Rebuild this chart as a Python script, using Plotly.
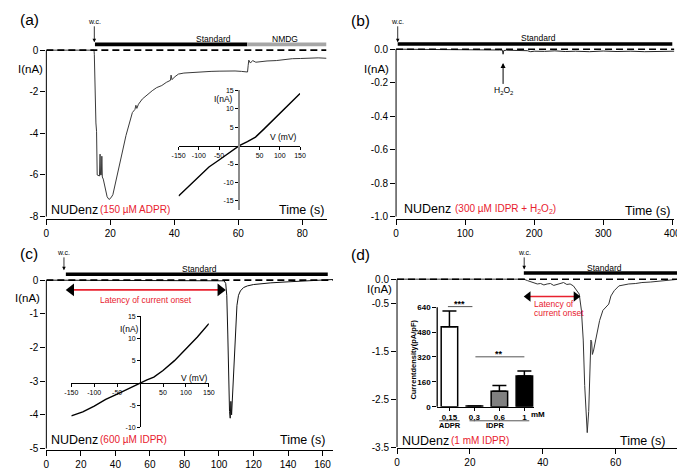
import plotly.graph_objects as go

W, H = 685, 469
FONT = "Liberation Sans, Arial, sans-serif"
RED = "#e8212e"
TRACE = "#333333"

# ---------------- data ----------------
# (a) 150 uM ADPR
a_time = [0, 14.9, 15.0, 15.1, 15.3, 15.5, 15.7, 15.9, 16.6, 16.8, 16.95, 17.2, 17.35, 17.5, 17.8, 18.4,
          19.0, 19.6, 20.2, 20.8, 21.8, 22.9, 23.9, 24.9, 25.9, 26.9, 27.7, 28.0, 28.3, 28.8, 30.0, 31.5,
          33.1, 34.5, 36.1, 37.5, 38.8, 39.0, 39.3, 40.0, 41.3, 43.0, 45.3, 48.0, 51.5, 54.0, 56.6, 59.0,
          61.0, 62.9, 63.1, 63.3, 63.8, 64.5, 65.5, 66.8, 69.0, 71.9, 74.0, 76.9, 79.5, 82.1, 85.0, 87.6]
a_curr = [0, 0, -0.2, -1.4, -1.6, -3.5, -3.9, -6.0, -6.05, -5.0, -6.0, -6.0, -5.1, -6.1, -6.2, -6.7,
          -7.05, -7.18, -7.1, -6.95, -6.3, -5.55, -4.8, -4.1, -3.5, -3.0, -2.85, -2.65, -2.8, -2.6, -2.35, -2.15,
          -1.95, -1.8, -1.7, -1.55, -1.45, -1.2, -1.42, -1.3, -1.15, -1.1, -1.07, -1.05, -1.02, -1.01, -0.99, -1.0,
          -1.02, -1.05, -0.75, -0.48, -0.62, -0.5, -0.58, -0.55, -0.52, -0.5, -0.45, -0.41, -0.4, -0.38, -0.37, -0.39]
a_wc = 15.0
a_standard = [15.2, 62.8]
a_nmdg = [62.8, 87.6]
a_xticks = [0, 20, 40, 60, 80]
a_yticks = [0, -2, -4, -6, -8]
a_iv_v = [-150, -125, -100, -75, -50, -25, 0, 20, 40, 60, 80, 100, 125, 150]
a_iv_i = [-13.7, -11.0, -8.3, -5.8, -3.9, -1.9, 0, 1.1, 2.3, 4.4, 6.6, 8.8, 11.5, 14.1]
iv_a_vticks = [-150, -100, -50, 50, 100, 150]
iv_a_iticks = [15, 10, 5, -5, -10, -15]

# (b) 300 uM IDPR + H2O2
b_time = [0, 2, 10, 30, 60, 90, 120, 150, 154, 155, 156, 160, 175, 190, 195, 200, 215, 230,
          245, 260, 280, 300, 320, 340, 360, 380, 400, 403]
b_curr = [0, 0, -0.002, 0.0, -0.003, -0.002, -0.004, -0.005, -0.006, -0.03, -0.008, -0.006, -0.007,
          -0.009, -0.015, -0.012, -0.013, -0.01, -0.014, -0.012, -0.015, -0.011, -0.014, -0.012, -0.015,
          -0.012, -0.013, -0.012]
b_wc = 2.4
b_standard = [2.4, 400]
b_h2o2 = 155
b_xticks = [0, 100, 200, 300, 400]
b_yticks = [0.0, -0.2, -0.4, -0.6, -0.8, -1.0]

# (c) 600 uM IDPR
c_time = [0, 100, 103.0, 103.9, 104.5, 105.1, 105.6, 106.1, 106.5, 106.9, 107.3, 107.8, 108.4, 108.9,
          109.6, 110.4, 111.3, 112.4, 114.2, 116.5, 120, 125, 130, 140, 150, 158, 163, 166]
c_curr = [0, 0, -0.02, -0.1, -0.45, -1.6, -3.0, -3.9, -4.1, -3.6, -4.0, -3.5, -2.9, -2.3,
          -1.5, -0.75, -0.45, -0.32, -0.22, -0.17, -0.13, -0.1, -0.08, -0.05, -0.03, -0.01, 0.01, 0.02]
c_wc = 10.2
c_standard = [11.3, 163]
c_latency = [11.3, 103.9]
c_xticks = [0, 20, 40, 60, 80, 100, 120, 140, 160]
c_yticks = [0, -1, -2, -3, -4, -5]
c_iv_v = [-150, -125, -100, -75, -50, -25, 0, 15, 30, 50, 75, 100, 125, 150]
c_iv_i = [-7.4, -6.5, -5.2, -3.7, -2.5, -1.2, 0, 0.7, 1.3, 2.8, 5.0, 7.6, 10.3, 13.3]
iv_c_vticks = [-150, -100, -50, 50, 100, 150]
iv_c_iticks = [15, 10, 5, -5, -10]

# (d) 1 mM IDPR
d_time = [0, 34.8, 35.8, 36.7, 37.6, 38.5, 39.4, 40.3, 41.2, 42.1, 43.0, 43.9, 44.8, 45.7, 46.6, 47.5,
          48.4, 49.3, 50.0, 50.6, 51.1, 51.5, 52.0, 52.2, 52.6, 53.0, 53.2, 53.4, 53.6, 53.9, 54.7, 55.6,
          56.5, 57.3, 58.1, 58.7, 59.6, 60.9, 62.0, 63.6, 65.5, 67.2, 69.5, 71.7, 74.0, 76.2, 78.8]
d_curr = [0, 0, -0.03, -0.05, -0.08, -0.1, -0.09, -0.12, -0.1, -0.09, -0.13, -0.11, -0.08, -0.07, -0.11, -0.1,
          -0.14, -0.24, -0.31, -0.65, -1.27, -2.22, -2.9, -3.2, -2.76, -1.95, -1.27, -1.3, -1.57, -1.5, -1.2, -0.86,
          -0.65, -0.59, -0.52, -0.35, -0.24, -0.14, -0.12, -0.1, -0.09, -0.07, -0.06, -0.04, -0.03, -0.01, 0.01]
d_wc = 34.9
d_standard = [34.8, 77]
d_latency = [34.8, 50.3]
d_xticks = [0, 20, 40, 60]
d_yticks = [0.0, -0.5, -1.5, -2.5, -3.5]

# (d) inset bar chart
bar_labels = ["0,15", "0,3", "0,6", "1"]
bar_values = [515, 4, 100, 197]
bar_errors = [100, 0, 36, 33]
bar_colors = ["white", "white", "#808080", "black"]
bar_yticks = [0, 160, 320, 480, 640]

# ---------------- helpers ----------------
def fx(px):
    return px / W


def fy(py):
    return 1 - py / H


def xdom(px0, sx, xr):
    return [fx(px0 + xr[0] * sx), fx(px0 + xr[1] * sx)]


def ydom(py0, sy, yr):
    return [fy(py0 - yr[0] * sy), fy(py0 - yr[1] * sy)]


def lab(v, fmt="{:g}"):
    return fmt.format(v)


AX = dict(showgrid=False, zeroline=False, ticks="outside", tickcolor="black", tickwidth=1,
          linecolor="black", linewidth=1)

fig = go.Figure()
layout = {}
shapes = []
ann = []

# main panels: suffix, px0, sx, xrange, py0, sy, yrange, x-axis line py, xticks, yticks, yfmt
MAIN = [
    ("", 32, 3.265, [0, 87.6], 39, 21.25, [-8, 0.45], 212, a_xticks, a_yticks, "{:g}"),
    ("2", 389, 0.705, [0, 403], 38, 171, [-1.0, 0.06], 211, b_xticks, b_yticks, "{:.1f}"),
    ("3", 32, 1.7625, [0, 166], 274, 34.4, [-5, 0.3], 448, c_xticks, c_yticks, "{:g}"),
    ("4", 390, 3.72, [0, 79], 273, 49, [-3.5, 0.2], 446, d_xticks, d_yticks, "{:.1f}"),
]
SCALE = {}
for sfx, px0, sx, xr, py0, sy, yr, xline, xt, yt, yfmt in MAIN:
    SCALE[sfx] = (sx, sy)
    layout["xaxis" + sfx] = dict(AX, domain=xdom(px0, sx, xr), range=xr, anchor="free",
                                 position=fy(xline), showline=True, tickvals=xt,
                                 ticktext=[lab(v) for v in xt], ticklen=5,
                                 tickfont=dict(size=10, family=FONT, color="black"))
    layout["yaxis" + sfx] = dict(AX, domain=ydom(py0, sy, yr), range=yr, anchor="x" + sfx,
                                 showline=False, tickvals=yt, ticktext=[lab(v, yfmt) for v in yt],
                                 ticklen=5, tickfont=dict(size=10, family=FONT, color="black"))
    span = yr[1] - yr[0]
    shapes.append(dict(type="line", xref=f"x{sfx} domain", yref=f"y{sfx} domain", x0=0, x1=0,
                       y0=(min(yt) - yr[0]) / span, y1=(0 - yr[0]) / span,
                       line=dict(color="black", width=1)))

# ---- traces of main panels ----
def trace(sfx, x, y, color=TRACE, width=1):
    fig.add_trace(go.Scatter(x=x, y=y, mode="lines", line=dict(color=color, width=width),
                             xaxis="x" + sfx, yaxis="y" + sfx, hoverinfo="skip"))


def zero_line(sfx, xr):
    fig.add_trace(go.Scatter(x=xr, y=[0, 0], mode="lines",
                             line=dict(color="black", width=1.6, dash="7px,4px"),
                             xaxis="x" + sfx, yaxis="y" + sfx, hoverinfo="skip"))


def bar(sfx, span, y, color="black"):
    shapes.append(dict(type="line", xref="x" + sfx, yref="y" + sfx, x0=span[0], x1=span[1],
                       y0=y, y1=y, line=dict(color=color, width=3.6)))


def wc(sfx, t, py_head, py_text):
    ann.append(dict(x=t, xref="x" + sfx, y=fy(py_head), yref="paper", text="w.c.", showarrow=True,
                    arrowhead=2, arrowsize=0.9, arrowwidth=0.8, arrowcolor="black", ax=0,
                    ay=py_text - py_head, font=dict(size=7, family=FONT, color="black")))


def latency(sfx, span, y, size):
    sx = SCALE[sfx][0]
    off = (size / 2) / sx
    xs = [span[0] + off, span[1] - off]
    fig.add_trace(go.Scatter(x=xs, y=[y, y], mode="lines", line=dict(color=RED, width=1.6),
                             xaxis="x" + sfx, yaxis="y" + sfx, hoverinfo="skip"))
    fig.add_trace(go.Scatter(x=xs, y=[y, y], mode="markers",
                             marker=dict(symbol=["triangle-left", "triangle-right"], size=size,
                                         color="black"),
                             xaxis="x" + sfx, yaxis="y" + sfx, hoverinfo="skip"))


trace("", a_time, a_curr, color="#3a3a3a")
zero_line("", [0, 87.6])
bar("", a_standard, 0.28)
bar("", a_nmdg, 0.28, color="#a6a6a6")
wc("", a_wc, 31, 10)

trace("2", b_time, b_curr, color="#222222")
zero_line("2", [0, 403])
bar("2", b_standard, 0.031)
wc("2", b_wc, 31, 10)

trace("3", c_time, c_curr, color="#111111")
zero_line("3", [0, 166])
bar("3", c_standard, 0.174)
wc("3", c_wc, 264, 246)
latency("3", c_latency, -0.29, 11)

trace("4", d_time, d_curr, color="#333333")
zero_line("4", [0, 79])
bar("4", d_standard, 0.13)
wc("4", d_wc, 263, 246)
latency("4", d_latency, -0.36, 9)

# ---- I-V insets ----
IV = [
    ("5", a_iv_v, a_iv_i, 229, 124 / 300, [-150, 150], 136.5, 3.767, [-17.5, 15],
     iv_a_vticks, iv_a_iticks, "#8c8c8c", 2.4),
    ("6", c_iv_v, c_iv_i, 127.7, 0.468, [-150, 150], 379, 4.55, [-10, 15],
     iv_c_vticks, iv_c_iticks, "black", 1),
]
for sfx, v, i, px0, sx, xr, py0, sy, yr, vt, it, ycol, yw in IV:
    layout["xaxis" + sfx] = dict(AX, domain=xdom(px0, sx, xr), range=xr, anchor="free",
                                 position=fy(py0), showline=True, tickvals=vt,
                                 ticktext=[lab(t) for t in vt], ticklen=3,
                                 tickfont=dict(size=7, family=FONT, color="black"))
    layout["yaxis" + sfx] = dict(AX, domain=ydom(py0, sy, yr), range=yr, anchor="free",
                                 position=fx(px0), showline=True, linecolor=ycol, linewidth=yw,
                                 tickvals=it, ticktext=[lab(t) for t in it], ticklen=3,
                                 tickfont=dict(size=7, family=FONT, color="black"))
    fig.add_trace(go.Scatter(x=v, y=i, mode="lines", line=dict(color="black", width=1.4),
                             xaxis="x" + sfx, yaxis="y" + sfx, hoverinfo="skip"))

# ---- bar chart inset ----
bxr = [-0.49, 3.4]
byr = [0, 660]
layout["xaxis7"] = dict(AX, domain=xdom(443.5, 25.5, bxr), range=bxr, anchor="y7", showline=True,
                        linewidth=1.3, tickvals=[0, 1, 2, 3], ticktext=bar_labels, ticklen=3,
                        tickfont=dict(size=8, family=FONT, color="black", weight="bold"))
layout["yaxis7"] = dict(AX, domain=ydom(403.3, 0.1588, byr), range=byr, anchor="x7", showline=False,
                        tickvals=bar_yticks, ticktext=[lab(t) for t in bar_yticks], ticklen=4,
                        tickfont=dict(size=8, family=FONT, color="black", weight="bold"))
shapes.append(dict(type="line", xref="x7 domain", yref="y7 domain", x0=0, x1=0, y0=0,
                   y1=max(bar_yticks) / byr[1], line=dict(color="black", width=1.3)))
fig.add_trace(go.Bar(x=[0, 1, 2, 3], y=bar_values, width=0.66,
                     marker=dict(color=bar_colors, line=dict(color="black", width=1.5)),
                     error_y=dict(type="data", symmetric=False, array=bar_errors,
                                  arrayminus=[0, 0, 0, 0], color="black", thickness=1.5, width=7),
                     xaxis="x7", yaxis="y7", hoverinfo="skip"))
# significance brackets
shapes.append(dict(type="line", xref="x7", yref="y7", x0=-0.06, x1=0.92, y0=644, y1=644,
                   line=dict(color="#555555", width=1)))
shapes.append(dict(type="line", xref="x7", yref="y7", x0=1.04, x1=3.0, y0=321, y1=321,
                   line=dict(color="#555555", width=1)))
# group underlines
shapes.append(dict(type="line", xref="paper", yref="paper", x0=fx(433), x1=fx(454), y0=fy(417.7),
                   y1=fy(417.7), line=dict(color="#555555", width=1)))
shapes.append(dict(type="line", xref="paper", yref="paper", x0=fx(464), x1=fx(525), y0=fy(417.7),
                   y1=fy(417.7), line=dict(color="#555555", width=1)))


# ---- text ----
def text(px, py, s, size, color="black", xanchor="center", bold=False, angle=0):
    ann.append(dict(x=fx(px), y=fy(py), xref="paper", yref="paper", text=s, showarrow=False,
                    xanchor=xanchor, yanchor="middle", textangle=angle,
                    font=dict(size=size, color=color, family=FONT,
                              weight="bold" if bold else "normal")))


for lbl, px, py in [("(a)", 3, 8), ("(b)", 341, 8.5), ("(c)", 3, 247), ("(d)", 341, 248)]:
    text(px, py, lbl, 15.5, xanchor="left")
for px, py in [(15.5, 58), (369, 58), (12.5, 292), (372, 283)]:
    text(px, py, "I(nA)", 11.5)
for px, py in [(35, 202), (395, 201), (35, 437), (393, 438)]:
    text(px, py, "NUDenz", 12.5, xanchor="left")
text(85, 202, "(150 µM ADPR)", 10, color=RED, xanchor="left")
text(447, 201, "(300 µM IDPR + H<sub>2</sub>O<sub>2</sub>)", 10, color=RED, xanchor="left")
text(85, 437, "(600 µM IDPR)", 10, color=RED, xanchor="left")
text(443, 438, "(1 mM IDPR)", 10, color=RED, xanchor="left")
for px, py in [(317, 202), (671, 203), (318, 437), (666, 438)]:
    text(px, py, "Time (s)", 12.5, xanchor="right")
text(203, 28, "Standard", 8.5)
text(276, 28, "NMDG", 8.5)
text(534, 27, "Standard", 8.5)
text(188, 263, "Standard", 8.5)
text(602, 262, "Standard", 8.5)
text(213, 89, "I(nA)", 8.5)
text(274, 128, "V (mV)", 8.5)
text(117, 324, "I(nA)", 8.5)
text(183, 374, "V (mV)", 8.5)
text(134, 294, "Latency of current onset", 8.5, color=RED)
text(528, 298.3, "Latency of", 8.5, color=RED, xanchor="left")
text(528, 307.5, "current onset", 8.5, color=RED, xanchor="left")
text(533.5, 411.5, "mM", 8, bold=True)
text(444, 423, "ADPR", 7.5, bold=True)
text(490.5, 423, "IDPR", 7.5, bold=True)
text(454, 298, "***", 9, bold=True)
text(494, 349, "**", 9, bold=True)
text(406.5, 355, "Currentdensity(pA/pF)", 7.5, bold=True, angle=-90)

ann.append(dict(x=b_h2o2, xref="x2", y=fy(52), yref="paper", text="H<sub>2</sub>O<sub>2</sub>",
                showarrow=True, arrowhead=2, arrowsize=1, arrowwidth=1, arrowcolor="black",
                ax=0, ay=28, font=dict(size=8.5, family=FONT, color="black")))

fig.update_layout(width=W, height=H, margin=dict(l=0, r=0, t=0, b=0), autosize=False,
                  paper_bgcolor="white", plot_bgcolor="rgba(0,0,0,0)", showlegend=False,
                  font=dict(family=FONT, color="black"), shapes=shapes, annotations=ann, **layout)

fig.write_html("out.html")
